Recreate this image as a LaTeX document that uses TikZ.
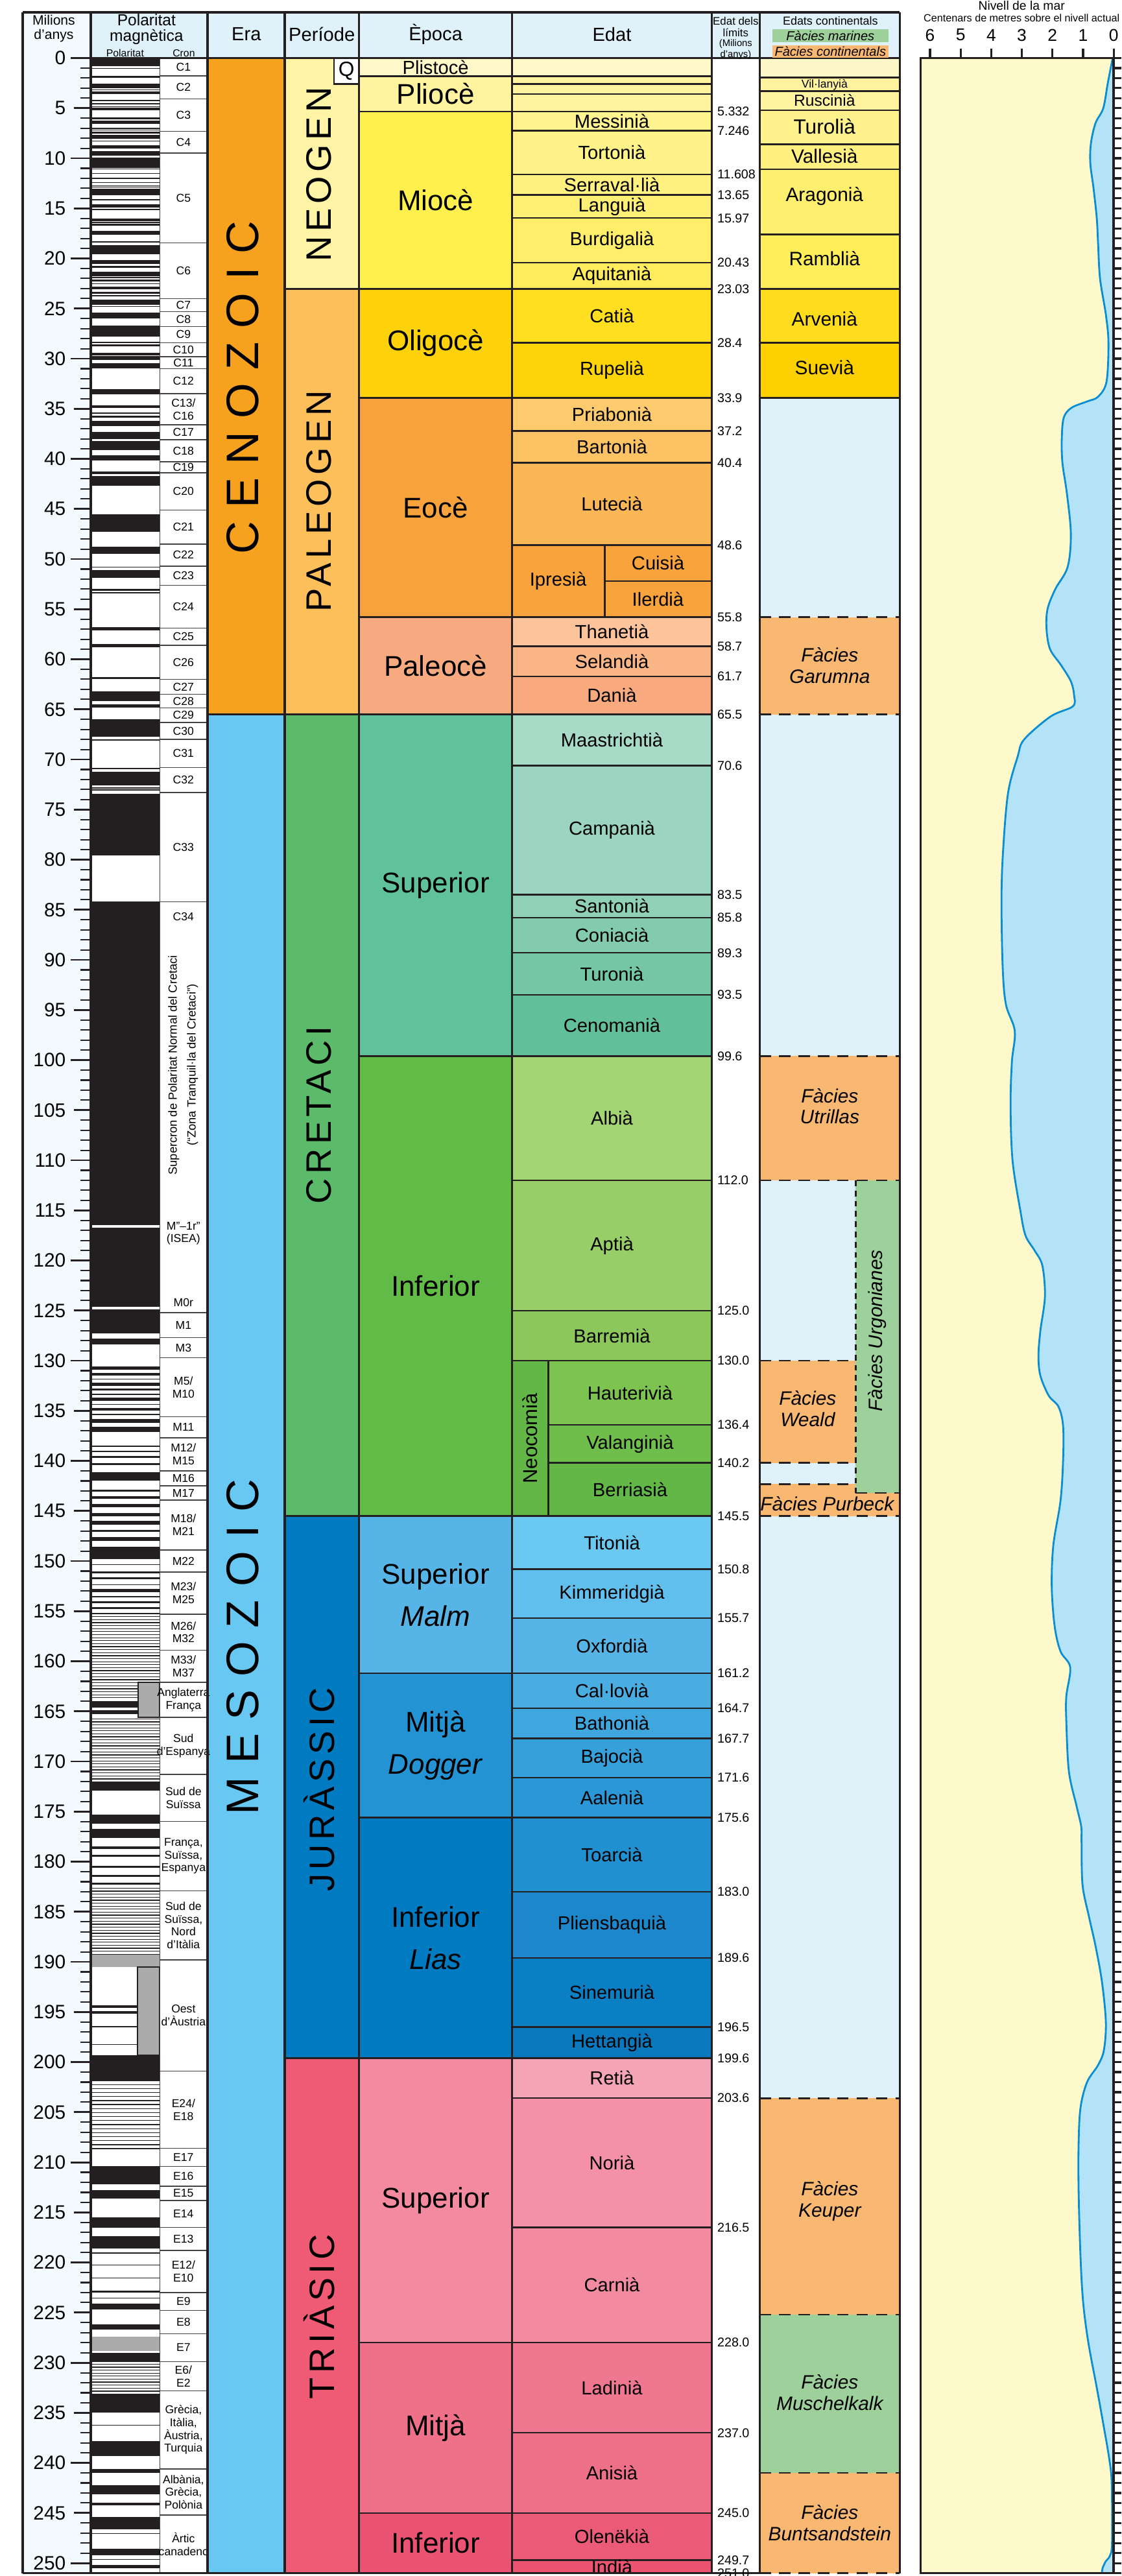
\documentclass[tikz,border=0pt]{standalone}
\usepackage{fontspec}
\setmainfont{Liberation Sans}
\newfontfamily\erafont[LetterSpace=29]{Liberation Sans}
\newfontfamily\periodfont[LetterSpace=12]{Liberation Sans}
\usetikzlibrary{positioning}

\definecolor{ink}{HTML}{231F20}
\definecolor{headbg}{HTML}{DFF2FA}
\definecolor{scalebg}{HTML}{F3FAFD}
\definecolor{contbg}{HTML}{DFF2FA}
\definecolor{facland}{HTML}{F9B872}
\definecolor{facsea}{HTML}{9DD09B}
\definecolor{polgray}{HTML}{ABABAB}
\definecolor{land}{HTML}{FEF9CB}
\definecolor{sea}{HTML}{B4E3F7}
\definecolor{sealine}{HTML}{0A8DD2}
% eres i periodes
\definecolor{cenozoic}{HTML}{F6A21E}
\definecolor{mesozoic}{HTML}{68C8F2}
\definecolor{pNeo}{HTML}{FFF4A6}
\definecolor{pPal}{HTML}{FDBF5A}
\definecolor{pCre}{HTML}{5BBB6B}
\definecolor{pJur}{HTML}{007BC2}
\definecolor{pTri}{HTML}{EF5A75}
% epoques
\definecolor{ePlis}{HTML}{FFF8C8}
\definecolor{ePlio}{HTML}{FFF39F}
\definecolor{eMio}{HTML}{FFF04E}
\definecolor{eOli}{HTML}{FDD20A}
\definecolor{eEoc}{HTML}{F8A23C}
\definecolor{ePal}{HTML}{F7AA7F}
\definecolor{eKsup}{HTML}{60C29B}
\definecolor{eKinf}{HTML}{62BB46}
\definecolor{eJsup}{HTML}{56B5E6}
\definecolor{eJmid}{HTML}{2393D3}
\definecolor{eJinf}{HTML}{007BC2}
\definecolor{eTsup}{HTML}{F38AA0}
\definecolor{eTmid}{HTML}{EE7089}
\definecolor{eTinf}{HTML}{EA5472}
% edats
\definecolor{sMes}{HTML}{FFF490}
\definecolor{sTor}{HTML}{FFF288}
\definecolor{sSer}{HTML}{FFF17F}
\definecolor{sLan}{HTML}{FFEF75}
\definecolor{sBur}{HTML}{FFEE6A}
\definecolor{sAqu}{HTML}{FFEC5D}
\definecolor{sCat}{HTML}{FFDF1F}
\definecolor{sRup}{HTML}{FDD408}
\definecolor{sPri}{HTML}{FDCB6E}
\definecolor{sBar}{HTML}{FDC263}
\definecolor{sLut}{HTML}{FBB656}
\definecolor{sYpr}{HTML}{F9A33C}
\definecolor{sTha}{HTML}{FDC39A}
\definecolor{sSel}{HTML}{FBB688}
\definecolor{sDan}{HTML}{F8AA7E}
\definecolor{sMaa}{HTML}{A8DAC8}
\definecolor{sCam}{HTML}{9BD4C0}
\definecolor{sSan}{HTML}{8FD0B7}
\definecolor{sCon}{HTML}{82CBAE}
\definecolor{sTur}{HTML}{74C6A5}
\definecolor{sCen}{HTML}{61BF9A}
\definecolor{sAlb}{HTML}{A2D474}
\definecolor{sApt}{HTML}{97CE68}
\definecolor{sBrm}{HTML}{8BC75A}
\definecolor{sHau}{HTML}{7DC350}
\definecolor{sVal}{HTML}{6FBD4A}
\definecolor{sBer}{HTML}{62B746}
\definecolor{sTit}{HTML}{6AC8F1}
\definecolor{sKim}{HTML}{60BFEC}
\definecolor{sOxf}{HTML}{56B5E6}
\definecolor{sCal}{HTML}{4AADE2}
\definecolor{sBat}{HTML}{40A6DE}
\definecolor{sBaj}{HTML}{36A0DA}
\definecolor{sAal}{HTML}{2A98D6}
\definecolor{sToa}{HTML}{2190D0}
\definecolor{sPli}{HTML}{1C88CB}
\definecolor{sSin}{HTML}{0B7FC4}
\definecolor{sHet}{HTML}{0A78BD}
\definecolor{sRet}{HTML}{F5A4B5}
\definecolor{sNor}{HTML}{F491A6}
\definecolor{sCar}{HTML}{F28AA0}
\definecolor{sLad}{HTML}{EF7790}
\definecolor{sAni}{HTML}{EE6F88}
\definecolor{sOle}{HTML}{EB5A76}
\definecolor{sInd}{HTML}{EA5471}
% edats continentals
\definecolor{kA}{HTML}{FEF8C8}
\definecolor{kB}{HTML}{FFF39F}
\definecolor{kC}{HTML}{FFF28C}
\definecolor{kD}{HTML}{FFF080}
\definecolor{kE}{HTML}{FFEF6E}
\definecolor{kF}{HTML}{FFEE5A}
\definecolor{kG}{HTML}{FFDD1C}
\definecolor{kH}{HTML}{FDD000}

\tikzset{
	frameline/.style={draw=ink,line width=1pt},
	cell/.style={draw=ink,line width=0.7pt},
	cronline/.style={draw=ink!85,line width=0.4pt},
	faciesline/.style={draw=ink,line width=0.8pt,dash pattern=on 5pt off 3.5pt},
	headlabel/.style={font=\fontsize{8.3}{9}\selectfont,inner sep=0pt,align=center},
	headsmall/.style={font=\fontsize{4.8}{5.2}\selectfont,inner sep=0pt,align=center},
	scalelabel/.style={font=\fontsize{8.5}{10}\selectfont,inner sep=0pt,anchor=east},
	cronlabel/.style={font=\fontsize{5}{5.6}\selectfont,inner sep=0pt,align=center},
	eralabel/.style={font=\erafont\fontsize{20}{24}\selectfont,rotate=90,inner sep=0pt},
	periodlabel/.style={font=\periodfont\fontsize{15.5}{18}\selectfont,rotate=90,inner sep=0pt},
	epochlabel/.style={font=\fontsize{12.5}{18.5}\selectfont,align=center,inner sep=0pt},
	stagelabel/.style={font=\fontsize{8.3}{9.5}\selectfont,inner sep=0pt},
	limitlabel/.style={font=\fontsize{5.6}{6}\selectfont,inner sep=0pt,anchor=west},
	facieslabel/.style={font=\itshape\fontsize{8.5}{9.3}\selectfont,inner sep=0pt,align=center},
	legendbox/.style={font=\itshape\fontsize{5.7}{6}\selectfont,inner sep=0pt,minimum width=1.79cm,minimum height=0.195cm},
	axislabel/.style={font=\fontsize{7.5}{9}\selectfont,inner sep=0pt},
}

\begin{document}
\begin{tikzpicture}[x=0.01cm,y=-0.1545cm]
	\useasboundingbox (0,-5.793) rectangle (1730,251.29);
	\fill[white] (0,-5.793) rectangle (1730,251.29);
	\fill[scalebg] (35,-4.56) rectangle (140,251);
	\fill[headbg] (140,-4.56) rectangle (1388,0);

	% eres
	\foreach \a/\b/\c in {0/65.5/cenozoic,65.5/251/mesozoic}{
		\filldraw[fill=\c,cell] (320,\a) rectangle (439,\b);
	}
	% periodes
	\foreach \a/\b/\c in {0/23.03/pNeo,23.03/65.5/pPal,65.5/145.5/pCre,145.5/199.6/pJur,199.6/251/pTri}{
		\filldraw[fill=\c,cell] (439,\a) rectangle (554,\b);
	}
	\filldraw[fill=white,cell] (515,0) rectangle (554,2.588);
	% epoques
	\foreach \a/\b/\c/\n [count=\i] in {0/1.8/ePlis/{},1.8/5.332/ePlio/Pliocè,5.332/23.03/eMio/Miocè,
		23.03/33.9/eOli/Oligocè,33.9/55.8/eEoc/Eocè,55.8/65.5/ePal/Paleocè,
		65.5/99.6/eKsup/Superior,99.6/145.5/eKinf/Inferior,
		145.5/161.2/eJsup/{Superior\\\textit{Malm}},161.2/175.6/eJmid/{Mitjà\\\textit{Dogger}},
		175.6/199.6/eJinf/{Inferior\\\textit{Lias}},
		199.6/228/eTsup/Superior,228/245/eTmid/Mitjà,245/251/eTinf/Inferior}{
		\filldraw[fill=\c,cell] (554,\a) rectangle (790,\b);
		\node[epochlabel] (epoch\i) at (672,{(\a+\b)/2}) {\n};
	}
	\node[stagelabel] (plistoce) at (672,0.9) {Plistocè};
	% edats
	\foreach \a/\b/\c/\n [count=\i] in {0/1.8/ePlis/{},1.8/2.588/ePlio/{},2.588/3.6/ePlio/{},3.6/5.332/ePlio/{},
		5.332/7.246/sMes/Messinià,7.246/11.608/sTor/Tortonià,11.608/13.65/sSer/Serraval·lià,
		13.65/15.97/sLan/Languià,15.97/20.43/sBur/Burdigalià,20.43/23.03/sAqu/Aquitanià,
		23.03/28.4/sCat/Catià,28.4/33.9/sRup/Rupelià,33.9/37.2/sPri/Priabonià,
		37.2/40.4/sBar/Bartonià,40.4/48.6/sLut/Lutecià,55.8/58.7/sTha/Thanetià,
		58.7/61.7/sSel/Selandià,61.7/65.5/sDan/Danià,65.5/70.6/sMaa/Maastrichtià,
		70.6/83.5/sCam/Campanià,83.5/85.8/sSan/Santonià,85.8/89.3/sCon/Coniacià,
		89.3/93.5/sTur/Turonià,93.5/99.6/sCen/Cenomanià,99.6/112/sAlb/Albià,
		112/125/sApt/Aptià,125/130/sBrm/Barremià,145.5/150.8/sTit/Titonià,
		150.8/155.7/sKim/Kimmeridgià,155.7/161.2/sOxf/Oxfordià,161.2/164.7/sCal/Cal·lovià,
		164.7/167.7/sBat/Bathonià,167.7/171.6/sBaj/Bajocià,171.6/175.6/sAal/Aalenià,
		175.6/183/sToa/Toarcià,183/189.6/sPli/Pliensbaquià,189.6/196.5/sSin/Sinemurià,
		196.5/199.6/sHet/Hettangià,199.6/203.6/sRet/Retià,203.6/216.5/sNor/Norià,
		216.5/228/sCar/Carnià,228/237/sLad/Ladinià,237/245/sAni/Anisià,
		245/249.7/sOle/Olenëkià,249.7/251/sInd/Indià}{
		\filldraw[fill=\c,cell] (790,\a) rectangle (1098,\b);
		\node[stagelabel] (stage\i) at (944,{(\a+\b)/2}) {\n};
	}
	% Ipresia i Neocomia
	\filldraw[fill=sYpr,cell] (790,48.6) rectangle (933,55.8);
	\filldraw[fill=sYpr,cell] (933,48.6) rectangle (1098,52.2);
	\filldraw[fill=sYpr,cell] (933,52.2) rectangle (1098,55.8);
	\node[stagelabel] (ipresia) at (861,52.2) {Ipresià};
	\node[stagelabel] (cuisia) at (1015,50.4) {Cuisià};
	\node[stagelabel] (ilerdia) at (1015,54) {Ilerdià};
	\filldraw[fill=sBer,cell] (790,130) rectangle (846,145.5);
	\node[stagelabel,rotate=90,font=\fontsize{8.8}{10}\selectfont] (neocomia) at (818,137.75) {Neocomià};
	\foreach \a/\b/\c/\n [count=\i] in {130/136.4/sHau/Hauterivià,136.4/140.2/sVal/Valanginià,140.2/145.5/sBer/Berriasià}{
		\filldraw[fill=\c,cell] (846,\a) rectangle (1098,\b);
		\node[stagelabel] (neo\i) at (972,{(\a+\b)/2}) {\n};
	}

	% edats continentals
	\fill[contbg] (1172,33.9) rectangle (1388,251);
	\foreach \a/\b/\c in {0/1.95/kA,1.95/3.3/kB,3.3/5.2/kB,5.2/8.6/kC,8.6/11.1/kD,11.1/17.6/kE,17.6/23.03/kF,23.03/28.4/kG,28.4/33.9/kH}{
		\filldraw[fill=\c,cell] (1172,\a) rectangle (1388,\b);
	}
	\fill[facland] (1172,55.8) rectangle (1388,65.5);
	\fill[facland] (1172,99.6) rectangle (1388,112);
	\fill[facsea] (1320,112) rectangle (1388,143.2);
	\fill[facland] (1172,130) rectangle (1320,140.2);
	\fill[facland] (1172,142.3) rectangle (1320,145.5);
	\fill[facland] (1320,143.2) rectangle (1388,145.5);
	\fill[facland] (1172,203.6) rectangle (1388,225.2);
	\fill[facsea] (1172,225.2) rectangle (1388,241);
	\fill[facland] (1172,241) rectangle (1388,251);

	% polaritat magnetica
	\foreach \a/\b in {0/0.78,0.99/1.07,1.77/1.95,2.58/3.04,3.11/3.22,3.33/3.58,4.18/4.29,4.48/4.62,
		4.80/4.89,4.98/5.23,5.89/6.14,6.27/6.57,6.94/7.09,7.14/7.17,7.34/7.38,7.43/7.56,7.65/8.07,
		8.23/8.26,8.70/9.03,9.31/9.58,9.64/9.74,9.92/10.95,11.05/11.10,11.48/11.53,11.94/12.08,
		12.40/12.42,12.73/12.76,12.82/12.88,13.01/13.70,14.08/14.19,14.61/14.78,14.80/14.89,
		15.03/15.16,16.01/16.29,16.33/16.49,16.54/16.73,17.28/17.62,18.28/18.40,18.70/19.60,
		20.13/20.52,20.73/20.91,21.32/21.77,21.86/22.00,22.13/22.27,22.51/22.57,22.80/23.07,
		23.35/23.54,23.68/23.80,24.10/24.60,24.78/24.83,25.40/26.00,26.70/27.80,28.30/28.45,
		28.55/28.75,29.40/29.66,29.77/30.10,30.48/30.94,33.06/33.55,34.66/34.94,35.34/35.53,
		35.69/35.90,36.20/36.70,37.30/38.00,38.20/39.10,39.63/40.13,41.26/41.52,41.70/42.70,
		45.50/47.30,48.80/49.50,50.78/50.83,51.10/51.90,53.00/53.20,53.30/53.40,56.80/57.10,
		58.50/58.80,61.80/62.00,63.20/64.20,64.50/64.80,66.00/67.70,68.00/68.15,70.85/70.95,
		71.20/72.60,72.80/72.90,73.00/73.08,73.40/79.60,84.20/116.50,116.70/124.60,124.90/127.30,
		127.80/128.40,130.60/130.90,131.20/131.50,131.80/131.90,132.20/132.50,132.80/133.00,
		133.30/133.40,133.70/134.00,134.30/134.40,134.70/135.00,135.30/135.40,135.80/136.20,
		136.60/137.10,138.50/138.60,139.00/139.10,139.50/139.70,140.20/140.40,141.10/142.00,
		142.90/143.10,143.50/143.80,144.30/144.60,145.20/145.50,146.00/146.40,146.90/147.10,
		147.60/148.00,148.60/149.80,150.30/150.40,151.00/151.20,151.60/151.80,152.30/152.40,
		152.80/153.10,153.50/153.60,154.00/154.20,154.60/154.80,155.20/155.30,164.00/164.60,
		164.90/165.30,172.00/172.90,175.30/176.20,176.70/177.60,178.50/178.70,179.30/179.50,
		180.40/180.60,181.30/181.50,182.10/182.30,194.30/194.60,194.90/195.20,196.40/196.50,
		198.20/198.30,199.30/201.90,208.60/208.70,210.40/212.20,212.80/213.60,215.50/216.50,
		217.40/218.60,219.00/219.10,220.20/220.30,221.50/221.60,222.80/223.00,223.50/223.60,
		224.10/224.70,226.20/226.70,229.00/229.90,233.10/235.00,236.20/236.30,237.80/239.30,
		240.60/241.00,242.20/243.10,244.00/244.20,245.40/246.60,247.00/247.10,248.60/249.20,
		249.60/249.70,250.20/250.50}{
		\fill[ink] (140,\a) rectangle (246,\b);
	}
	\foreach \m in {155.5,155.8,...,163.9,165.7,166.0,...,171.8,182.6,182.9,...,189.2,202.2,202.6,...,208.4,230.1,230.4,...,232.9}{
		\fill[ink] (140,\m) rectangle (246,\m+0.08);
	}
	\filldraw[fill=polgray,draw=ink,line width=0.4pt] (213,162.1) rectangle (246,165.6);
	\fill[polgray] (140,189.3) rectangle (246,190.5);
	\filldraw[fill=polgray,draw=ink,line width=0.4pt] (212,190.5) rectangle (246,199.3);
	\fill[polgray] (140,227.4) rectangle (246,228.8);
	\draw[cronline] (246.5,0) -- (246.5,251);

	% crons
	\foreach \a/\b/\n [count=\i] in {0/1.78/C1,1.78/4.07/C2,4.07/7.3/C3,7.3/9.49/C4,9.49/18.46/C5,
		18.46/24.0/C6,24.0/25.3/C7,25.3/26.8/C8,26.8/28.4/C9,28.4/29.8/C10,29.8/31.0/C11,
		31.0/33.5/C12,33.5/36.6/{C13/\\C16},36.6/38.1/C17,38.1/40.3/C18,40.3/41.4/C19,
		41.4/45.1/C20,45.1/48.5/C21,48.5/50.7/C22,50.7/52.6/C23,52.6/56.9/C24,56.9/58.6/C25,
		58.6/62.0/C26,62.0/63.5/C27,63.5/64.85/C28,64.85/66.3/C29,66.3/68.0/C30,68.0/70.8/C31,
		70.8/73.3/C32,73.3/84.2/C33,125.2/127.7/M1,127.7/129.7/M3,129.7/135.6/{M5/\\M10},
		135.6/137.7/M11,137.7/141.0/{M12/\\M15},141.0/142.5/M16,142.5/143.9/M17,
		143.9/148.9/{M18/\\M21},148.9/151.1/M22,151.1/155.3/{M23/\\M25},155.3/158.9/{M26/\\M32},
		158.9/162.1/{M33/\\M37},162.1/165.6/{Anglaterra\\França},165.6/171.3/{Sud\\d’Espanya},
		171.3/176.0/{Sud de\\Suïssa},176.0/182.9/{França,\\Suïssa,\\Espanya},
		182.9/189.8/{Sud de\\Suïssa,\\Nord\\d’Itàlia},189.8/200.9/{Oest\\d’Àustria},
		200.9/208.6/{E24/\\E18},208.6/210.4/E17,210.4/212.4/E16,212.4/213.8/E15,213.8/216.5/E14,
		216.5/218.8/E13,218.8/223.0/{E12/\\E10},223.0/224.8/E9,224.8/227.1/E8,227.1/229.9/E7,
		229.9/232.8/{E6/\\E2},232.8/240.6/{Grècia,\\Itàlia,\\Àustria,\\Turquia},
		240.6/245.2/{Albània,\\Grècia,\\Polònia},245.2/251/{Àrtic\\canadenc}}{
		\draw[cronline] (246.5,\a) rectangle (320,\b);
		\node[cronlabel] (cron\i) at (283,{(\a+\b)/2}) {\n};
	}
	\draw[cronline] (246.5,84.2) -- (320,84.2) (246.5,125.2) -- (320,125.2);
	\node[cronlabel] (c34) at (283,85.7) {C34};
	\node[cronlabel,rotate=90,font=\fontsize{5.2}{6}\selectfont] (supercron) at (268,100.5) {Supercron de Polaritat Normal del Cretaci};
	\node[cronlabel,rotate=90,font=\fontsize{5.2}{6}\selectfont] (tranquil) at (297,100.5) {(“Zona Tranquil·la del Cretaci”)};
	\node[cronlabel] (isea) at (283,117.3) {M”–1r”\\(ISEA)};
	\node[cronlabel] (m0r) at (283,124.2) {M0r};

	% escala de temps
	\foreach \m in {0,...,250} \draw[ink,line width=0.6pt] (124,\m) -- (140,\m);
	\foreach \m in {5,15,...,245} \draw[ink,line width=0.8pt] (114,\m) -- (140,\m);
	\foreach \m in {0,10,...,250} \draw[ink,line width=0.8pt] (109,\m) -- (140,\m);
	\foreach \m [count=\i] in {0,5,...,250} \node[scalelabel] (ma\i) at (102,\m) {\m};

	% linies del quadre
	\foreach \x in {35,140,320,439,554,790,1098,1172,1388} \draw[frameline] (\x,-4.56) -- (\x,251);
	\draw[frameline] (35,-4.56) -- (1388,-4.56);
	\draw[frameline] (140,0) -- (1388,0);
	\draw[frameline] (35,251) -- (1172,251);

	% limits de les facies
	\foreach \m in {55.8,65.5,99.6,112,145.5,203.6,225.2,241,251} \draw[faciesline] (1172,\m) -- (1388,\m);
	\foreach \m in {130,140.2,142.3} \draw[faciesline] (1172,\m) -- (1320,\m);
	\draw[faciesline] (1320,143.2) -- (1388,143.2);
	\draw[faciesline,dash pattern=on 2.5pt off 2pt] (1320,112) -- (1320,143.2);

	% etiquetes d'eres i periodes
	\node[eralabel] (cenoz) at (374,32.9) {CENOZOIC};
	\node[eralabel] (mesoz) at (374,158.6) {MESOZOIC};
	\node[periodlabel] (neogen) at (492,11.6) {NEOGEN};
	\node[periodlabel] (paleogen) at (492,44.2) {PALEOGEN};
	\node[periodlabel] (cretaci) at (492,105.5) {CRETACI};
	\node[periodlabel] (juras) at (492,172.8) {JURÀSSIC};
	\node[periodlabel] (trias) at (492,225.4) {TRIÀSIC};
	\node[font=\fontsize{9}{10}\selectfont,inner sep=0pt] (quat) at (534.5,1.29) {Q};

	% edats dels limits
	\foreach \m [count=\i] in {5.332,7.246,11.608,13.65,15.97,20.43,23.03,28.4,33.9,37.2,40.4,48.6,
		55.8,58.7,61.7,65.5,70.6,83.5,85.8,89.3,93.5,99.6,112.0,125.0,130.0,136.4,140.2,145.5,
		150.8,155.7,161.2,164.7,167.7,171.6,175.6,183.0,189.6,196.5,199.6,203.6,216.5,228.0,
		237.0,245.0,249.7,251.0}{
		\node[limitlabel] (lim\i) at (1106,\m) {\m};
	}

	% etiquetes continentals
	\foreach \y/\n/\s [count=\i] in {2.67/Vil·lanyià/5,4.24/Ruscinià/7,6.8/Turolià/9,9.75/Vallesià/8.5,
		13.8/Aragonià/8.5,20.0/Ramblià/8.5,26.0/Arvenià/8.5,30.9/Suevià/8.5}{
		\node[inner sep=0pt,font=\fontsize{\s}{\s}\selectfont] (cont\i) at (1272,\y) {\n};
	}
	\node[facieslabel] (garumna) at (1280,60.6) {Fàcies\\Garumna};
	\node[facieslabel] (utrillas) at (1280,104.6) {Fàcies\\Utrillas};
	\node[facieslabel] (weald) at (1246,134.8) {Fàcies\\Weald};
	\node[facieslabel,rotate=90] (urgon) at (1353,127) {Fàcies Urgonianes};
	\node[facieslabel] (purbeck) at (1276,144.3) {Fàcies Purbeck};
	\node[facieslabel] (keuper) at (1280,213.9) {Fàcies\\Keuper};
	\node[facieslabel] (muschel) at (1280,233) {Fàcies\\Muschelkalk};
	\node[facieslabel] (bunt) at (1280,246) {Fàcies\\Buntsandstein};

	% capcalera
	\node[headlabel,font=\fontsize{6}{6.4}\selectfont] (milions) at (83,-2.95) {Milions\\d’anys};
	\node[headlabel,font=\fontsize{7}{6.8}\selectfont] (polhead) at (226,-2.88) {Polaritat\\magnètica};
	\node[headlabel,font=\fontsize{4.5}{5}\selectfont] (polsub) at (193,-0.5) {Polaritat};
	\node[headlabel,font=\fontsize{4.5}{5}\selectfont] (cronsub) at (283.6,-0.5) {Cron};
	\node[headlabel] (erahead) at (380,-2.36) {Era};
	\node[headlabel] (perhead) at (496.5,-2.36) {Període};
	\node[headlabel] (epochhead) at (672,-2.36) {Època};
	\node[headlabel] (stagehead) at (944,-2.36) {Edat};
	\node[headsmall] (limhead) at (1135,-3.1) {Edat dels\\límits};
	\node[headsmall,font=\fontsize{4.2}{4.9}\selectfont,below=0.6pt of limhead] (limunit) {(Milions\\d’anys)};
	\node[headsmall,font=\fontsize{5.1}{5.5}\selectfont] (conthead) at (1281,-3.72) {Edats continentals};
	\node[legendbox,fill=facsea,below=1.5pt of conthead] (legsea) {Fàcies marines};
	\node[legendbox,fill=facland,below=1pt of legsea] (legland) {Fàcies continentals};

	% nivell de la mar
	\fill[land] (1420,0) rectangle (1718,251);
	\filldraw[fill=sea,draw=sealine,line width=0.8pt] plot[smooth,tension=0.55] coordinates {
		(1716.5,0) (1709,2.5) (1702,5) (1690,6.5) (1683,8.5) (1682,10.5) (1687,13) (1692,16)
		(1694,18.5) (1697,22) (1706,25.6) (1710,28.4) (1707,32.3) (1694,33.8) (1678,34.25)
		(1653,34.9) (1641,35.9) (1638,38) (1639,40.4) (1646,43.5) (1652,47.5) (1647,50.8)
		(1628,53) (1616,55) (1614.5,57) (1620,59) (1637,60.6) (1652,62.2) (1657,63.6)
		(1655,64.7) (1621,65.7) (1580,68) (1570,69.7) (1555,73.4) (1547,79.6) (1545,84.5)
		(1547,91) (1552,94.5) (1565.5,97.1) (1561,100.2) (1559,104.5) (1562,110) (1574,115)
		(1582,117.5) (1596,119) (1608,120.5) (1612,123.6) (1605,127) (1602,129.5) (1605,131.5)
		(1618,133.5) (1633,134.6) (1640,136.5) (1640,140) (1636,144) (1625,148.4) (1622.5,152.5)
		(1627,156.5) (1636,159) (1651,160.6) (1645,163.5) (1645,166) (1649,171) (1661,174.5)
		(1668,176.5) (1668.5,178) (1670,182.3) (1680,185.5) (1690,188.4) (1700,192) (1706,196)
		(1703,198.8) (1694,200.3) (1677,202) (1667,204.5) (1664,208) (1664,213) (1667,219.6)
		(1671,224) (1679,228) (1692,232.5) (1702,236.1) (1711,239.5) (1715,242) (1715.5,248)
		(1712,249.3) (1706,249.8) (1701,250.5) (1700,251)}
		-- (1718,251) -- (1718,0) -- cycle;
	\draw[frameline] (1420,0) rectangle (1718,251);
	\foreach \m in {0,...,251} \draw[ink,line width=0.9pt] (1718,\m) -- (1730,\m);
	\foreach \v in {0,...,6}{
		\draw[ink,line width=0.9pt] ({1718-47.2*\v},0) -- ({1718-47.2*\v},-0.94);
		\node[axislabel] (axis\v) at ({1718-47.2*\v},-2.3) {\v};
	}
	\node[inner sep=0pt,font=\fontsize{5.5}{6}\selectfont,anchor=north] (nivell) at (1576,-5.72) {Nivell de la mar};
	\node[headsmall,font=\fontsize{4.6}{5}\selectfont,below=1.2pt of nivell] (centenars) {Centenars de metres sobre el nivell actual};
\end{tikzpicture}
\end{document}
